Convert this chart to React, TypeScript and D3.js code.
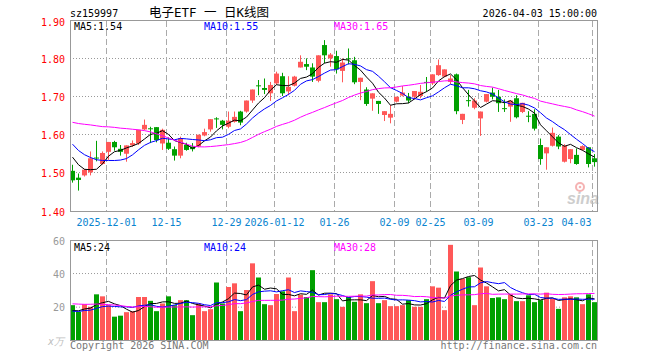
import * as d3 from "d3";

// trading days shown (88 sessions)
const dates = [
  "2025-11-21",
  "2025-11-24", "2025-11-25", "2025-11-26", "2025-11-27", "2025-11-28",
  "2025-12-01", "2025-12-02", "2025-12-03", "2025-12-04", "2025-12-05",
  "2025-12-08", "2025-12-09", "2025-12-10", "2025-12-11", "2025-12-12",
  "2025-12-15", "2025-12-16", "2025-12-17", "2025-12-18", "2025-12-19",
  "2025-12-22", "2025-12-23", "2025-12-24", "2025-12-25", "2025-12-26",
  "2025-12-29", "2025-12-30", "2025-12-31",
  "2026-01-05", "2026-01-06", "2026-01-07", "2026-01-08", "2026-01-09",
  "2026-01-12", "2026-01-13", "2026-01-14", "2026-01-15", "2026-01-16",
  "2026-01-19", "2026-01-20", "2026-01-21", "2026-01-22", "2026-01-23",
  "2026-01-26", "2026-01-27", "2026-01-28", "2026-01-29", "2026-01-30",
  "2026-02-02", "2026-02-03", "2026-02-04", "2026-02-05", "2026-02-06",
  "2026-02-09", "2026-02-10", "2026-02-11", "2026-02-12", "2026-02-13",
  "2026-02-24", "2026-02-25", "2026-02-26", "2026-02-27",
  "2026-03-02", "2026-03-03", "2026-03-04", "2026-03-05", "2026-03-06",
  "2026-03-09", "2026-03-10", "2026-03-11", "2026-03-12", "2026-03-13",
  "2026-03-16", "2026-03-17", "2026-03-18", "2026-03-19", "2026-03-20",
  "2026-03-23", "2026-03-24", "2026-03-25", "2026-03-26", "2026-03-27",
  "2026-03-30", "2026-03-31", "2026-04-01", "2026-04-02", "2026-04-03",
];

const opens = [
  1.507, 1.489, 1.495, 1.503, 1.542, 1.525, 1.557, 1.583, 1.565, 1.552,
  1.574, 1.579, 1.616, 1.619, 1.622, 1.579, 1.581, 1.564, 1.547, 1.575,
  1.571, 1.571, 1.600, 1.616, 1.645, 1.639, 1.623, 1.636, 1.663, 1.663,
  1.692, 1.732, 1.725, 1.711, 1.737, 1.756, 1.716, 1.731, 1.779, 1.788,
  1.779, 1.744, 1.838, 1.803, 1.809, 1.770, 1.803, 1.798, 1.741, 1.721,
  1.697, 1.691, 1.654, 1.647, 1.689, 1.705, 1.702, 1.702, 1.704, 1.741,
  1.737, 1.759, 1.755, 1.741, 1.761, 1.641, 1.693, 1.673, 1.645, 1.689,
  1.713, 1.702, 1.672, 1.676, 1.698, 1.662, 1.652, 1.657, 1.575, 1.553,
  1.573, 1.597, 1.531, 1.538, 1.549, 1.562, 1.569, 1.540,
];
const highs = [
  1.523, 1.500, 1.512, 1.558, 1.586, 1.558, 1.583, 1.586, 1.575, 1.574,
  1.587, 1.615, 1.642, 1.623, 1.622, 1.618, 1.595, 1.571, 1.597, 1.581,
  1.580, 1.602, 1.618, 1.643, 1.648, 1.641, 1.663, 1.663, 1.665, 1.692,
  1.721, 1.746, 1.750, 1.741, 1.768, 1.765, 1.756, 1.757, 1.811, 1.803,
  1.790, 1.811, 1.851, 1.817, 1.823, 1.803, 1.829, 1.807, 1.752, 1.727,
  1.711, 1.691, 1.664, 1.680, 1.702, 1.730, 1.712, 1.717, 1.733, 1.754,
  1.761, 1.800, 1.774, 1.759, 1.763, 1.657, 1.720, 1.698, 1.663, 1.709,
  1.726, 1.720, 1.695, 1.692, 1.706, 1.686, 1.664, 1.669, 1.592, 1.569,
  1.621, 1.601, 1.577, 1.564, 1.566, 1.574, 1.569, 1.551,
];
const lows = [
  1.476, 1.455, 1.492, 1.495, 1.532, 1.523, 1.536, 1.560, 1.547, 1.531,
  1.570, 1.575, 1.614, 1.580, 1.582, 1.562, 1.562, 1.534, 1.540, 1.560,
  1.558, 1.569, 1.598, 1.610, 1.620, 1.616, 1.619, 1.634, 1.627, 1.660,
  1.686, 1.706, 1.709, 1.691, 1.733, 1.704, 1.706, 1.729, 1.779, 1.772,
  1.741, 1.740, 1.790, 1.781, 1.763, 1.740, 1.787, 1.735, 1.693, 1.678,
  1.665, 1.657, 1.638, 1.632, 1.687, 1.703, 1.685, 1.695, 1.698, 1.715,
  1.733, 1.757, 1.753, 1.735, 1.656, 1.630, 1.676, 1.669, 1.599, 1.687,
  1.695, 1.662, 1.662, 1.636, 1.645, 1.659, 1.635, 1.613, 1.523, 1.510,
  1.571, 1.564, 1.529, 1.527, 1.523, 1.560, 1.516, 1.518,
];
const closes = [
  1.482, 1.483, 1.510, 1.540, 1.541, 1.554, 1.583, 1.569, 1.557, 1.574,
  1.580, 1.615, 1.628, 1.618, 1.588, 1.615, 1.565, 1.547, 1.593, 1.562,
  1.564, 1.602, 1.609, 1.643, 1.643, 1.628, 1.639, 1.649, 1.634, 1.692,
  1.721, 1.731, 1.720, 1.733, 1.763, 1.711, 1.728, 1.755, 1.794, 1.781,
  1.755, 1.811, 1.811, 1.813, 1.774, 1.792, 1.802, 1.740, 1.752, 1.683,
  1.711, 1.683, 1.664, 1.657, 1.702, 1.713, 1.692, 1.717, 1.715, 1.740,
  1.761, 1.785, 1.774, 1.750, 1.664, 1.657, 1.692, 1.692, 1.663, 1.709,
  1.702, 1.685, 1.671, 1.692, 1.648, 1.686, 1.651, 1.618, 1.538, 1.569,
  1.607, 1.571, 1.573, 1.564, 1.525, 1.572, 1.525, 1.530,
];
// volume, 万手
const volumes = [
  21.2, 17.2, 21.8, 20.2, 27.7, 26.5, 21.2, 14.3, 14.9, 17.0,
  17.6, 26.1, 26.1, 23.8, 17.6, 22.2, 26.5, 21.2, 24.2, 24.2,
  15.2, 22.2, 17.6, 18.8, 34.8, 22.2, 32.1, 34.3, 17.6, 30.3,
  46.3, 37.8, 21.8, 21.2, 27.9, 29.5, 37.8, 17.6, 27.5, 26.1,
  42.2, 23.0, 23.0, 27.7, 24.8, 20.2, 26.1, 23.2, 27.7, 22.4,
  35.6, 22.4, 24.2, 20.6, 20.6, 21.2, 24.2, 20.2, 20.2, 24.8,
  32.5, 31.7, 18.2, 57.4, 41.4, 37.0, 38.0, 21.2, 43.8, 32.5,
  25.5, 25.9, 24.8, 27.7, 23.6, 23.6, 27.1, 23.0, 24.2, 28.7,
  25.1, 19.0, 25.9, 26.5, 25.9, 21.8, 27.7, 23.0,
];
// 29 sessions before the window (estimated, only feed the moving averages)
const priorCloses = [
  1.58, 1.57, 1.59, 1.61, 1.62, 1.60, 1.61, 1.62, 1.61, 1.63,
  1.66, 1.69, 1.72, 1.74, 1.76, 1.75, 1.73, 1.74, 1.71, 1.73,
  1.65, 1.62, 1.614, 1.60, 1.573, 1.583, 1.57, 1.545, 1.535,
];
const priorVolumes = [
  22, 26, 19, 24, 30, 28, 21, 25, 33, 27,
  23, 20, 29, 26, 22, 24, 19, 25, 21, 20,
  19, 16, 18, 17, 16, 18, 16.5, 17.5, 16.8,
];

const tickDates = ["2025-12-01", "2025-12-15", "2025-12-29", "2026-01-12", "2026-01-26",
  "2026-02-09", "2026-02-25", "2026-03-09", "2026-03-23", "2026-04-03"];
const tickLabels = ["2025-12-01", "12-15", "12-29", "2026-01-12", "01-26",
  "02-09", "02-25", "03-09", "03-23", "04-03"];
const priceTicks = [1.9, 1.8, 1.7, 1.6, 1.5, 1.4];
const volTicks = [60, 40, 20];

const maPeriods = [5, 10, 30];
const maColors = ["#000000", "#0000ff", "#ff00ff"];
const priceMaText = ["1.54", "1.55", "1.65"];
const volMaText = ["24", "24", "28"];

const RED = "#ff5858";
const GREEN = "#00a000";
const GRID = "#aaaaaa";
const FONT = "'DejaVu Sans Mono', monospace";

function movingAvg(prior: number[], vals: number[], n: number) {
  const all = [...prior, ...vals];
  return vals.map((_, i) => {
    const end = i + prior.length;
    return d3.mean(all.slice(end - n + 1, end + 1)) as number;
  });
}

export default function App() {
  const W = 660, H = 360;
  const left = 70, right = 598;

  const x = d3.scaleBand<string>().domain(dates).range([left, right]).padding(0);
  const bw = x.bandwidth();
  const y = d3.scaleLinear().domain([1.4, 1.9]).range([211.5, 21.5]);
  const vy = d3.scaleLinear().domain([0, 60]).range([340.5, 240.5]);

  const cx = (i: number) => (x(dates[i]) as number) + 2.5;

  const priceMAs = maPeriods.map(n => movingAvg(priorCloses, closes, n));
  const volMAs = maPeriods.map(n => movingAvg(priorVolumes, volumes, n));

  const priceLine = d3.line<number>().x((_, i) => cx(i)).y(d => y(d));
  const volLine = d3.line<number>().x((_, i) => cx(i)).y(d => vy(d));

  const up = (i: number) => closes[i] > opens[i];

  return (
    <svg width={W} height={H} style={{position: "absolute", left: 0, top: 0, background: "#fff"}}
         fontFamily={FONT} fontSize={10}>
      {/* header */}
      <text x={70} y={17} fill="#000">sz159997</text>
      <text x={209} y={17} textAnchor="middle" fontFamily="'DejaVu Sans Mono', 'Noto Sans CJK SC', monospace"
            fontSize={12.5} fill="#000" style={{whiteSpace: "pre"}}>电子ETF 一 日K线图</text>
      <text x={597} y={17} textAnchor="end" fill="#000">2026-04-03 15:00:00</text>

      {/* price panel grid */}
      {priceTicks.slice(1, 5).map(t => (
        <line key={t} x1={left} x2={right} y1={Math.round(y(t)) - 0.5} y2={Math.round(y(t)) - 0.5}
              stroke="#999" strokeDasharray="1,2"/>
      ))}
      {tickDates.map(d => (
        <g key={d}>
          <line x1={(x(d) as number) + 0.5} x2={(x(d) as number) + 0.5} y1={21} y2={211}
                stroke={GRID} strokeDasharray="6,3"/>
          <line x1={(x(d) as number) + 0.5} x2={(x(d) as number) + 0.5} y1={241} y2={340}
                stroke={GRID} strokeDasharray="6,3"/>
        </g>
      ))}
      <line x1={left} x2={right} y1={vy(40) - 0.3} y2={vy(40) - 0.3} stroke="#999" strokeDasharray="1,2"/>
      <line x1={left} x2={right} y1={vy(20)} y2={vy(20)} stroke="#999" strokeDasharray="1,2"/>

      {/* price axis labels */}
      {priceTicks.map(t => (
        <text key={t} x={65} y={Math.round(y(t)) + 4} textAnchor="end" fill="#ff0000">{t.toFixed(2)}</text>
      ))}
      {/* date labels */}
      {tickDates.map((d, k) => {
        const last = k === tickDates.length - 1;
        return (
          <text key={d} x={(x(d) as number) + (last ? -0.5 : 0.5)} y={226}
                textAnchor={last ? "end" : "middle"} fill="#0a84cf">{tickLabels[k]}</text>
        );
      })}

      {/* sina watermark */}
      <g opacity={0.75}>
        <circle cx={580} cy={187} r={4} fill="none" stroke="#f29a9a" strokeWidth={2}/>
        <circle cx={580} cy={187} r={1.3} fill="#f29a9a"/>
        <text x={567} y={204} fontFamily="'Liberation Sans', sans-serif" fontStyle="italic" fontWeight="bold"
              fontSize={16} fill="#bdbdbd">sina</text>
      </g>

      {/* candles */}
      {dates.map((d, i) => {
        const c = up(i) ? RED : GREEN;
        const top = y(Math.max(opens[i], closes[i]));
        const bot = y(Math.min(opens[i], closes[i]));
        return (
          <g key={d}>
            <line x1={cx(i)} x2={cx(i)} y1={y(highs[i])} y2={y(lows[i])} stroke={c}/>
            <rect x={x(d)} y={top} width={bw - 1} height={Math.max(1, bot - top)} fill={c}/>
          </g>
        );
      })}
      {priceMAs.map((m, k) => (
        <path key={k} d={priceLine(m) ?? ""} fill="none" stroke={maColors[k]} strokeWidth={1}/>
      ))}

      {/* volume */}
      {dates.map((d, i) => (
        <rect key={d} x={x(d)} y={vy(volumes[i])} width={bw - 1} height={vy(0) - vy(volumes[i])}
              fill={up(i) ? RED : GREEN}/>
      ))}
      {volMAs.map((m, k) => (
        <path key={k} d={volLine(m) ?? ""} fill="none" stroke={maColors[k]} strokeWidth={1}/>
      ))}
      {volTicks.map(t => (
        <text key={t} x={65} y={Math.round(vy(t)) + 4} textAnchor="end" fill="#999">{t}</text>
      ))}
      <text x={64} y={345} textAnchor="end" fontStyle="italic" fill="#c0c0c0">x万</text>

      {/* frames */}
      <rect x={70.5} y={20.5} width={527} height={191} fill="none" stroke="#999"/>
      <rect x={70.5} y={240.5} width={527} height={100} fill="none" stroke="#999"/>

      {/* MA legends */}
      {maPeriods.map((n, k) => (
        <g key={n}>
          <text x={74 + 130 * k} y={30} fill={maColors[k]}>{`MA${n}:${priceMaText[k]}`}</text>
          <text x={74 + 130 * k} y={251} fill={maColors[k]}>{`MA${n}:${volMaText[k]}`}</text>
        </g>
      ))}

      {/* footer */}
      <text x={70} y={349} fill="#777">Copyright 2026 SINA.COM</text>
      <text x={597} y={349} textAnchor="end" fill="#777">http://finance.sina.com.cn</text>
    </svg>
  );
}
